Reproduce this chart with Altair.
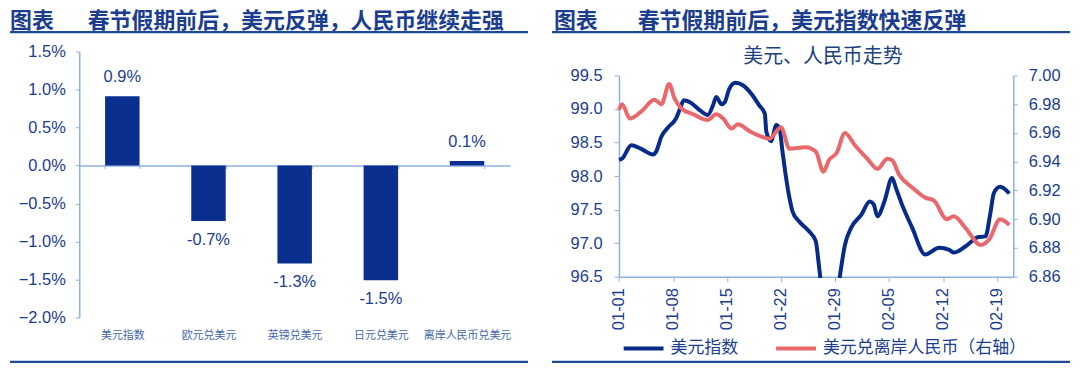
import json
import altair as alt
import pandas as pd

# ---------------- text ----------------
title_tag = "图表"
left_title = "春节假期前后，美元反弹，人民币继续走强"
right_title = "春节假期前后，美元指数快速反弹"
right_subtitle = "美元、人民币走势"

# ---------------- left panel data ----------------
bar_categories = ["美元指数", "欧元兑美元", "英镑兑美元", "日元兑美元", "离岸人民币兑美元"]
bar_values = [0.91, -0.73, -1.29, -1.51, 0.06]          # percent
bar_axis_ticks = [-2.0, -1.5, -1.0, -0.5, 0.0, 0.5, 1.0, 1.5]

# ---------------- right panel data ----------------
series_names = ["美元指数", "美元兑离岸人民币（右轴）"]

usd_days = [0.0, 0.4, 1.6, 3.1, 4.4, 4.8, 5.5, 6.4, 7.4, 7.9, 8.4, 9.2, 10.5, 11.5,
            12.2, 12.6, 13.3, 13.7, 14.3, 15.1, 16.1, 17.2, 18.2, 18.9, 19.1, 19.7,
            20.4, 20.8, 21.2, 21.6, 22.1, 22.5, 23.3, 24.6, 25.5, 25.9, 26.1,
            28.6, 29.3, 30.1, 31.4, 32.5, 33.0, 33.5, 34.4, 35.4, 35.9, 36.7, 38.0,
            39.7, 41.5, 42.8, 43.4, 44.9, 46.6, 47.5, 48.1, 48.6, 49.4, 50.6]
usd_values = [98.24, 98.26, 98.46, 98.39, 98.32, 98.36, 98.59, 98.73, 98.86, 99.00, 99.13,
              99.10, 98.98, 98.91, 99.06, 99.18, 99.07, 99.10, 99.30, 99.39, 99.35, 99.22,
              99.05, 98.93, 98.66, 98.52, 98.76, 98.71, 98.36, 98.02, 97.67, 97.47, 97.33,
              97.18, 97.03, 96.68, 96.48,
              96.48, 96.98, 97.23, 97.42, 97.62, 97.58, 97.40, 97.62, 97.97, 97.82, 97.57,
              97.23, 96.83, 96.93, 96.90, 96.86, 96.95, 97.09, 97.10, 97.42, 97.75, 97.84,
              97.74]

cnh_days = [0.0, 0.4, 1.4, 2.9, 4.6, 5.5, 6.5, 7.2, 8.1, 9.6, 11.5, 12.6, 13.5, 14.6,
            15.4, 17.0, 18.7, 19.5, 21.0, 22.1, 24.2, 25.5, 26.5, 27.2, 28.2, 29.3,
            30.5, 32.2, 33.5, 34.8, 35.4, 36.3, 38.0, 39.7, 40.8, 42.5, 43.4, 44.9,
            46.9, 48.0, 49.4, 50.6]
cnh_values = [6.976, 6.980, 6.970, 6.975, 6.983, 6.980, 6.994, 6.984, 6.977, 6.973, 6.969,
              6.973, 6.970, 6.963, 6.966, 6.961, 6.957, 6.956, 6.964, 6.949, 6.950, 6.947,
              6.933, 6.941, 6.946, 6.960, 6.952, 6.942, 6.935, 6.942, 6.941, 6.931, 6.922,
              6.915, 6.913, 6.900, 6.902, 6.894, 6.882, 6.886, 6.900, 6.896]

date_tick_days = [0, 7, 14, 21, 28, 35, 42, 49]
date_tick_labels = ["01-01", "01-08", "01-15", "01-22", "01-29", "02-05", "02-12", "02-19"]
usd_ticks = [96.5, 97.0, 97.5, 98.0, 98.5, 99.0, 99.5]
cnh_ticks = [6.86, 6.88, 6.90, 6.92, 6.94, 6.96, 6.98, 7.00]

# ---------------- style ----------------
NAVY = "#1b3d8f"
CAT = "#4467a8"
BAR = "#0a2f8f"
BLUE = "#072b88"
RED = "#e8686b"
AXIS = "#8cb2e0"
RULE = "#1f4b94"
CJK = "Noto Sans CJK SC"
LAT = "Liberation Sans"
W, H = 532, 356

def text_layer(txt, x, y, size, bold=False, align="left", baseline="alphabetic", color=NAVY):
    return alt.Chart(pd.DataFrame({"t": [txt]})).mark_text(
        align=align, baseline=baseline, font=CJK, fontSize=size,
        fontWeight="bold" if bold else "normal", color=color
    ).encode(x=alt.value(x), y=alt.value(y), text="t:N")

def hrule(x1, x2, y, width=2.2):
    return alt.Chart(pd.DataFrame({"a": [0]})).mark_rule(color=RULE, strokeWidth=width).encode(
        x=alt.value(x1), x2=alt.value(x2), y=alt.value(y))

# ---------------- left panel ----------------
df_bar = pd.DataFrame({
    "cat": bar_categories,
    "value": bar_values,
    "label": [f"{v:.1f}%" for v in bar_values],
})

y_top, y_bot = 43, 310
zero_y = y_top + (1.5 / 3.5) * (y_bot - y_top)

bx = alt.X("cat:N", sort=bar_categories,
           scale=alt.Scale(range=[69.5, 502], paddingInner=0.6, paddingOuter=0.3),
           axis=alt.Axis(orient="bottom", offset=zero_y - H, title=None, domain=True,
                         domainColor=AXIS, domainWidth=1.5, ticks=True, tickBand="extent",
                         tickSize=3, tickColor=AXIS, labelAngle=0, labelFont=CJK,
                         labelFontSize=11, labelColor=CAT, labelPadding=162,
                         labelBaseline="top"))
by = alt.Y("value:Q",
           scale=alt.Scale(domain=[-2.0, 1.5], range=[y_bot, y_top], nice=False, zero=False),
           axis=alt.Axis(orient="left", offset=-69.5, values=bar_axis_ticks,
                         labelExpr="format(datum.value, '.1f') + '%'", title=None,
                         grid=False, domainColor=AXIS, domainWidth=1.5, tickColor=AXIS,
                         tickSize=4, labelPadding=10, labelFont=LAT, labelFontSize=16.5,
                         labelColor=NAVY))

bars = alt.Chart(df_bar).mark_bar(color=BAR).encode(x=bx, y=by, y2=alt.datum(0))
pos_lab = alt.Chart(df_bar).transform_filter("datum.value >= 0").mark_text(
    dy=-19, baseline="middle", font=LAT, fontSize=16.5, color=NAVY).encode(
    x=alt.X("cat:N", sort=bar_categories), y="value:Q", text="label:N")
neg_lab = alt.Chart(df_bar).transform_filter("datum.value < 0").mark_text(
    dy=19, baseline="middle", font=LAT, fontSize=16.5, color=NAVY).encode(
    x=alt.X("cat:N", sort=bar_categories), y="value:Q", text="label:N")

left = alt.layer(
    bars, pos_lab, neg_lab,
    text_layer(title_tag, 0, 19.5, 22, bold=True),
    text_layer(left_title, 78, 19.5, 22, bold=True),
    hrule(0, 520, 23.5),
    hrule(0, 520, 354.5),
).properties(width=W, height=H)

# ---------------- right panel ----------------
df_usd = pd.DataFrame({"day": usd_days, "value": usd_values})
df_usd["series"] = series_names[0]
df_usd["segment"] = ["a" if d < 27.4 else "b" for d in usd_days]
df_cnh = pd.DataFrame({"day": cnh_days, "value": cnh_values})
df_cnh["series"] = series_names[1]

rx_range = [79.3, 475]
ry_range = [269, 67]
label_expr = json.dumps(date_tick_labels) + "[round(datum.value / 7)]"

x_enc = alt.X("day:Q", scale=alt.Scale(domain=[0, 51.1], range=rx_range, nice=False, zero=False),
              axis=alt.Axis(orient="bottom", offset=ry_range[0] - H, values=date_tick_days,
                            labelExpr=label_expr, labelAngle=-90, title=None, grid=False,
                            domainColor=AXIS, domainWidth=1.5, tickColor=AXIS, tickSize=5,
                            labelPadding=6, labelFont=LAT, labelFontSize=16.5, labelColor=NAVY))
color_enc = alt.Color("series:N", scale=alt.Scale(domain=series_names, range=[BLUE, RED]),
                      legend=alt.Legend(orient="none", legendX=W + 82, legendY=319,
                                        direction="horizontal", title=None,
                                        symbolType="stroke", symbolStrokeWidth=4,
                                        symbolSize=1600, labelFont=CJK, labelFontSize=17,
                                        labelColor=NAVY, labelLimit=400, columnPadding=30,
                                        labelOffset=5, padding=0))

usd_line = alt.Chart(df_usd).mark_line(strokeWidth=4, interpolate="monotone").encode(
    x=x_enc,
    y=alt.Y("value:Q",
            scale=alt.Scale(domain=[96.5, 99.5], range=ry_range, nice=False, zero=False),
            axis=alt.Axis(orient="left", offset=-rx_range[0], values=usd_ticks, format=".1f",
                          title=None, grid=False, domainColor=AXIS, domainWidth=1.5,
                          tickColor=AXIS, tickSize=5, labelPadding=12, labelFont=LAT,
                          labelFontSize=16.5, labelColor=NAVY)),
    color=color_enc,
    detail="segment:N",
)
cnh_line = alt.Chart(df_cnh).mark_line(strokeWidth=4, interpolate="monotone").encode(
    x=alt.X("day:Q"),
    y=alt.Y("value:Q",
            scale=alt.Scale(domain=[6.86, 7.00], range=ry_range, nice=False, zero=False),
            axis=alt.Axis(orient="right", offset=-(W - rx_range[1]), values=cnh_ticks,
                          format=".2f", title=None, grid=False, domainColor=AXIS,
                          domainWidth=1.5, tickColor=AXIS, tickSize=4, labelPadding=11,
                          labelFont=LAT, labelFontSize=16.5, labelColor=NAVY)),
    color=alt.Color("series:N"),
)

right = alt.layer(
    usd_line, cnh_line,
    text_layer(title_tag, 14, 19.5, 22, bold=True),
    text_layer(right_title, 98, 19.5, 22, bold=True),
    text_layer(right_subtitle, 284, 49, 20, align="center", baseline="middle", color="#203f80"),
    hrule(12, 532, 23.5),
    hrule(12, 532, 354.5),
).resolve_scale(y="independent").properties(width=W, height=H)

chart = alt.hconcat(left, right, spacing=0, bounds="flush").properties(padding=0).configure_view(stroke=None)

chart.save("out.html", embed_options={"renderer": "svg", "actions": False})
